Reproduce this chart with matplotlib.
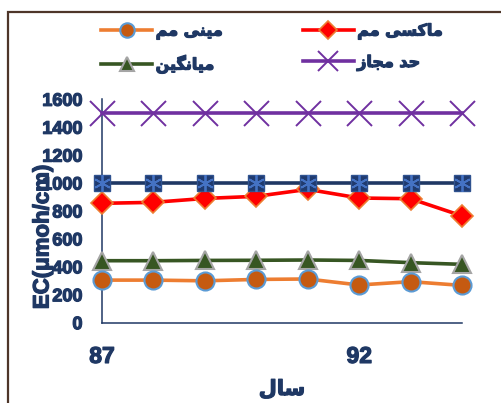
import matplotlib
matplotlib.use("Agg")
import matplotlib.pyplot as plt
import matplotlib.patheffects as pe
from matplotlib.patches import Rectangle

# EC readings per year (solar hijri, short form)
years = [87, 88, 89, 90, 91, 92, 93, 94]
ec_min = [305, 305, 300, 310, 313, 270, 294, 267]
ec_max = [855, 862, 890, 905, 955, 893, 888, 765]
ec_mean = [444, 444, 446, 447, 449, 446, 430, 418]
ec_limit = [1500, 1500, 1500, 1500, 1500, 1500, 1500, 1500]
ec_ref = [1000, 1000, 1000, 1000, 1000, 1000, 1000, 1000]

y_ticks = [0, 200, 400, 600, 800, 1000, 1200, 1400, 1600]
x_ticks = [87, 92]

# matplotlib has no RTL shaping, so the Persian labels are written with
# Arabic presentation forms in visual (left-to-right) order
lbl_min = "\uFEE2\uFEE3 \uFBFD\uFEE8\uFBFF\uFEE3"          # مینی مم
lbl_max = "\uFEE2\uFEE3 \uFBFD\uFEB4\uFB90\uFE8E\uFEE3"    # ماکسی مم
lbl_mean = "\uFEE6\uFBFF\uFB95\uFEE7\uFE8E\uFBFF\uFEE3"    # میانگین
lbl_limit = "\uFEAF\uFE8E\uFEA0\uFEE3 \uFEAA\uFEA3"        # حد مجاز
lbl_year = "\uFEDD\uFE8E\uFEB3"                            # سال

navy = "#1F3864"
fa_font = {"family": ["DejaVu Sans"], "weight": "bold"}
num_font = {"family": ["Liberation Sans"], "weight": "bold"}
heavy = [pe.withStroke(linewidth=0.9, foreground=navy)]

fig = plt.figure(figsize=(5.01, 4.03), dpi=100)
ax = fig.add_axes([102 / 501, 1 - 322.7 / 403, 360 / 501, 223.4 / 403])

h_limit, = ax.plot(years, ec_limit, color="#7030A0", lw=2.6, marker="x",
                   ms=18, mew=1.4, mec="#7030A0", clip_on=False, zorder=3)
h_max, = ax.plot(years, ec_max, color="#FF0000", lw=2.6, marker="D",
                 ms=11, mfc="#FF0000", mec="#ED7D31", mew=1.2,
                 clip_on=False, zorder=4)
ax.plot(years, ec_ref, color=navy, lw=2.6, marker="s", ms=12,
        mfc="#203A6E", mec="#2F528F", mew=1.0, clip_on=False, zorder=5)
ax.plot(years, ec_ref, ls="none", marker=(6, 2, 0), ms=12, mec="#4472C4",
        mew=1.3, clip_on=False, zorder=6)
h_mean, = ax.plot(years, ec_mean, color="#375623", lw=2.6, marker="^",
                  ms=13, mfc="#375623", mec="#A5A5A5", mew=1.5,
                  clip_on=False, zorder=5)
h_min, = ax.plot(years, ec_min, color="#ED7D31", lw=2.6, marker="o",
                 ms=13, mfc="#C55A11", mec="#5B9BD5", mew=1.5,
                 clip_on=False, zorder=6)

ax.set_xlim(87, 94)
ax.set_ylim(0, 1600)
ax.set_xticks(x_ticks)
ax.set_yticks(y_ticks)
ax.tick_params(axis="both", length=0, colors=navy)
ax.tick_params(axis="x", pad=16)
ax.tick_params(axis="y", pad=14)
for t in ax.get_yticklabels():
    t.set_fontproperties(num_font)
    t.set_fontsize(13)
    t.set_path_effects(heavy)
for t in ax.get_xticklabels():
    t.set_fontproperties(num_font)
    t.set_fontsize(16.5)
    t.set_path_effects(heavy)

for side in ("top", "right"):
    ax.spines[side].set_visible(False)
for side in ("left", "bottom"):
    ax.spines[side].set_color(navy)
    ax.spines[side].set_linewidth(1.1)

ylab = ax.set_ylabel("EC(\u03bcmoh/cm)", color=navy, fontsize=16,
                     va="center", **num_font)
ylab.set_path_effects(heavy)
ax.yaxis.set_label_coords(-0.164, 0.384)
xlab = ax.set_xlabel(lbl_year, color=navy, fontsize=15, labelpad=8, **fa_font)
xlab.set_path_effects(heavy)

leg = fig.legend([h_min, h_mean, h_max, h_limit],
                 [lbl_min, lbl_mean, lbl_max, lbl_limit],
                 ncol=2, loc="upper left", bbox_to_anchor=(87 / 501, 1 - 9 / 403),
                 frameon=False, numpoints=1, markerscale=0.8,
                 handlelength=3.2, columnspacing=5.0, labelspacing=1.0,
                 handletextpad=0.2,
                 prop={"family": ["DejaVu Sans"], "weight": "bold", "size": 11.5},
                 labelcolor=navy)
for t in leg.get_texts():
    t.set_path_effects(heavy)

# outer chart frame
fig.add_artist(Rectangle((8 / 501, -0.1), 1.2, 1.1 - 12 / 403,
                         transform=fig.transFigure, fill=False,
                         edgecolor="#4E3629", lw=1.6))

fig.savefig("out.png", dpi=100)
